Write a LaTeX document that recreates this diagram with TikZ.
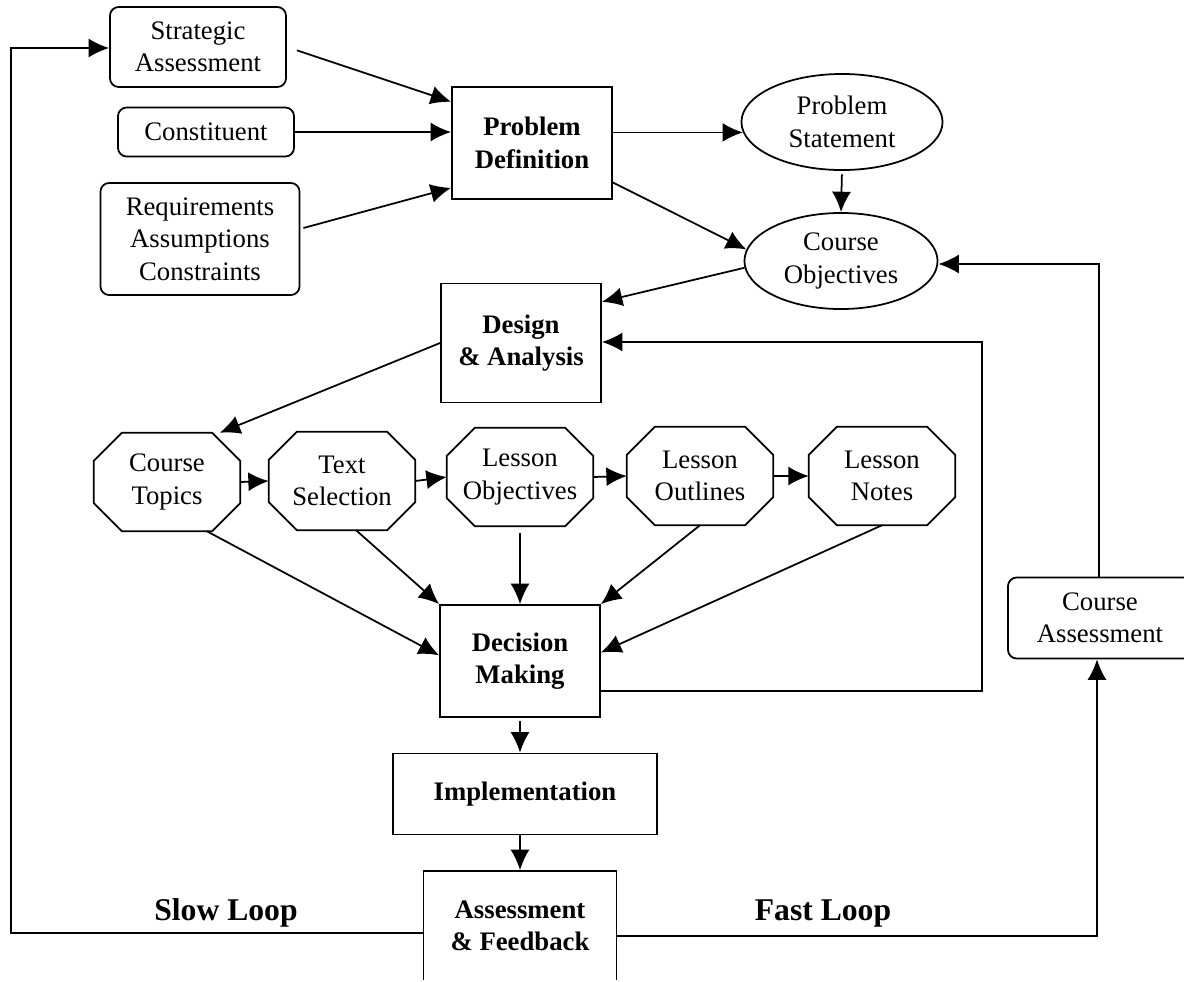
\documentclass[tikz,border=0pt]{standalone}
\usepackage{fontspec}
\setmainfont{Liberation Serif}
\usetikzlibrary{arrows.meta, shapes.geometric}

\newcommand{\octo}[1]{\draw[line width=0.5pt] ([xshift=0.28cm]#1.north west) -- ([xshift=-0.28cm]#1.north east)
  -- ([yshift=-0.28cm]#1.north east) -- ([yshift=0.28cm]#1.south east) -- ([xshift=-0.28cm]#1.south east)
  -- ([xshift=0.28cm]#1.south west) -- ([yshift=0.28cm]#1.south west) -- ([yshift=-0.28cm]#1.north west) -- cycle;}

\begin{document}
\begin{tikzpicture}
      [x=0.01cm, y=-0.01cm,
      font=\fontsize{7.6}{9.2}\selectfont,
      inbox/.style={rectangle, rounded corners=2.5pt, draw=black, line width=0.5pt, align=center, inner sep=1pt},
      proc/.style={rectangle, draw=black, line width=0.5pt, align=center, font=\fontsize{7.6}{9.2}\selectfont\bfseries},
      goal/.style={ellipse, draw=black, line width=0.5pt, align=center, inner sep=0pt, minimum height=0.96cm},
      task/.style={rectangle, align=center, inner sep=0pt, minimum width=1.45cm, minimum height=0.97cm},
      arr/.style={-{Latex[length=5.8pt, width=5.4pt]}, line width=0.5pt},
      looplabel/.style={font=\fontsize{9}{11}\selectfont\bfseries}]
      \useasboundingbox (0, 0) rectangle (1184, 981);
      \clip (-10, -10) rectangle (1194, 979.5);
      \node (strat) at (198, 47) [inbox, minimum width=1.76cm, minimum height=0.80cm] {Strategic\\Assessment};
      \node (const) at (206, 132) [inbox, minimum width=1.76cm, minimum height=0.49cm] {Constituent};
      \node (reqs) at (200, 239) [inbox, minimum width=1.99cm, minimum height=1.12cm] {Requirements\\Assumptions\\Constraints};
      \node (pd) at (532, 143) [proc, minimum width=1.60cm, minimum height=1.12cm] {Problem\\Definition};
      \node (ps) at (842, 122) [goal, minimum width=2.01cm] {Problem\\Statement};
      \node (co) at (841, 261) [goal, minimum width=1.93cm] {Course\\Objectives};
      \node (da) at (521, 343) [proc, minimum width=1.60cm, minimum height=1.19cm] {Design\\\& Analysis};
      \node (ct) at (167, 482) [task] {Course\\Topics};
      \node (ts) at (342, 481) [task] {Text\\Selection};
      \node (lo) at (520, 477) [task] {Lesson\\Objectives};
      \node (lout) at (700, 476) [task] {Lesson\\Outlines};
      \node (ln) at (882, 476) [task] {Lesson\\Notes};
      \octo{ct} \octo{ts} \octo{lo} \octo{lout} \octo{ln}
      \node (dm) at (520, 661) [proc, minimum width=1.60cm, minimum height=1.12cm] {Decision\\Making};
      \node (impl) at (525, 794) [proc, minimum width=2.64cm, minimum height=0.81cm] {Implementation};
      \node (af) at (520, 926) [proc, minimum width=1.93cm, minimum height=1.10cm] {Assessment\\\& Feedback};
      \node (ca) at (1100, 618) [inbox, minimum width=1.84cm, minimum height=0.81cm] {Course\\Assessment};
      \node (slow) at (226, 913) [looplabel] {Slow Loop};
      \node (fast) at (823, 913) [looplabel] {Fast Loop};

      \path (strat.east) edge[arr, shorten <=3pt] (pd.153)
      (const.east) edge[arr] (const.east -| pd.west)
      ([shift={(3, -11)}]reqs.east) edge[arr] (pd.209);
      \path (pd.east |- ps.186) edge[arr] (ps.186)
      (pd.334) edge[arr] (co.173)
      (ps.south) edge[arr, shorten <=1pt] (co.north)
      (co.184) edge[arr] (da.27)
      (da.west) edge[arr] (ct.43);
      \path (ct.east) edge[arr] (ts.west)
      (ts.east) edge[arr] (lo.west)
      (lo.east) edge[arr] (lout.west)
      (lout.east) edge[arr] (ln.west);
      \path (ct.309) edge[arr] (dm.176)
      (ts.286) edge[arr] (dm.north west)
      (lo.south) edge[arr, shorten <=2pt] (dm.north)
      (lout.south) edge[arr] (dm.north east)
      (ln.south) edge[arr] (dm.6);
      \path (dm.south) edge[arr, shorten <=1pt] (dm.south |- impl.north)
      (impl.south -| af.north) edge[arr] (af.north);

      \coordinate (slowbot) at (11, 933);
      \coordinate (slowtop) at (11, 48);
      \draw[arr] (af.west |- slowbot) -- (slowbot) -- (slowtop) -- (slowtop -| strat.west);
      \coordinate (fastbot) at (1097, 936);
      \draw[arr] (af.east |- fastbot) -- (fastbot) -- (fastbot |- ca.south);
      \coordinate (catop) at (1099, 264);
      \draw[arr] (catop |- ca.north) -- (catop) -- (catop -| co.east);
      \coordinate (dmfb) at (982, 691);
      \coordinate (dafb) at (982, 342);
      \draw[arr] (dmfb -| dm.east) -- (dmfb) -- (dafb) -- (dafb -| da.east);
\end{tikzpicture}
\end{document}
